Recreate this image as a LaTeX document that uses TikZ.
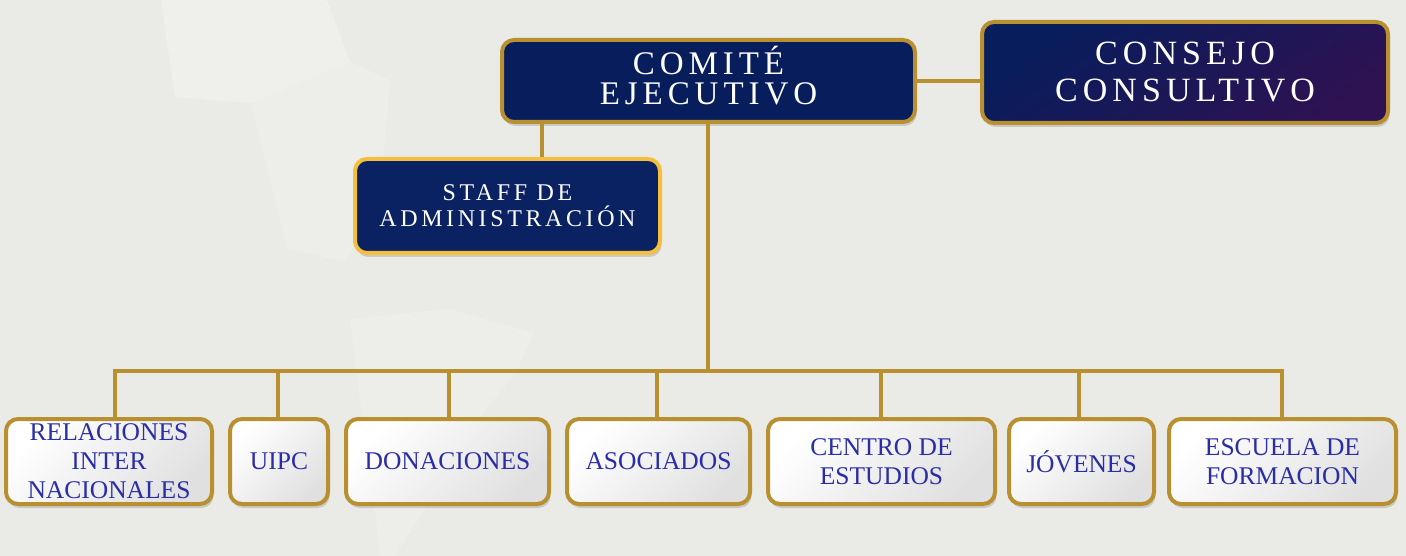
\documentclass[tikz,border=0pt]{standalone}
\usepackage{fontspec}
\setmainfont{Liberation Serif}
\newfontfamily\hdrfont[LetterSpace=15]{Liberation Serif}
\usetikzlibrary{shadows}
\definecolor{bg}{HTML}{EAEAE6}
\definecolor{gold}{HTML}{B8902F}
\definecolor{goldlight}{HTML}{F4BE3E}
\definecolor{navy}{HTML}{071D5C}
\definecolor{navyb}{HTML}{0A2262}
\definecolor{purp}{HTML}{2E1252}
\definecolor{boxgray}{HTML}{E0E0E0}
\definecolor{unittext}{HTML}{2A2DA6}
\begin{document}
\begin{tikzpicture}[x=1pt,y=-1pt,
  shadowed/.style={drop shadow={shadow xshift=1.5pt,shadow yshift=-4pt,opacity=0.3}},
  hdrbox/.style={shadowed,rounded corners=12pt,draw=gold,line width=4pt,fill=navy,
    text=white,inner sep=0pt,align=center},
  unitbox/.style={shadowed,rounded corners=12pt,draw=gold,line width=4pt,
    top color=white,bottom color=boxgray,shading angle=45,
    text=unittext,font=\fontsize{25.5}{29}\selectfont,align=center,inner sep=0pt,
    minimum height=85pt},
  link/.style={draw=gold,line width=4pt}]
\useasboundingbox (0,0) rectangle (1406,556);
\fill[bg] (0,0) rectangle (1406,556);
% faint map background
\fill[white,opacity=0.28] (161,0) -- (327,0) -- (350,62) -- (251,103) -- (175,97) -- cycle;
\fill[white,opacity=0.18] (251,103) -- (350,62) -- (390,80) -- (380,200) -- (345,262) -- (287,248) -- cycle;
\fill[white,opacity=0.18] (350,319) -- (448,309) -- (534,333) -- (516,372) -- (470,430) -- (430,500) -- (395,556) -- (380,556) -- (372,480) -- (360,400) -- cycle;

% top level
\node[hdrbox,minimum width=413pt,minimum height=82pt,text depth=11pt,
  font=\hdrfont\fontsize{33}{30.5}\selectfont] (comite) at (708.5,81) {COMITÉ\\EJECUTIVO};
\node[hdrbox,top color=navy,bottom color=purp,shading angle=35,
  minimum width=406pt,minimum height=101pt,
  font=\hdrfont\fontsize{34}{37}\selectfont] (consejo) at (1185,72.5) {CONSEJO\\CONSULTIVO};
\node[hdrbox,draw=goldlight,fill=navyb,minimum width=305pt,minimum height=94pt,
  font=\hdrfont\fontsize{24}{26}\selectfont] (staff) at (507.5,206) {STAFF DE\\ADMINISTRACIÓN};

% units
\node[unitbox,minimum width=206pt] (rel) at (109,461.5) {RELACIONES\\INTER\\NACIONALES};
\node[unitbox,minimum width=98pt] (uipc) at (279,461.5) {UIPC};
\node[unitbox,minimum width=203pt] (don) at (447.5,461.5) {DONACIONES};
\node[unitbox,minimum width=183pt] (aso) at (658.5,461.5) {ASOCIADOS};
\node[unitbox,minimum width=227pt] (cen) at (881.5,461.5) {CENTRO DE\\ESTUDIOS};
\node[unitbox,minimum width=145pt] (jov) at (1081.5,461.5) {JÓVENES};
\node[unitbox,minimum width=227pt] (esc) at (1282.5,461.5) {ESCUELA DE\\FORMACION};

% bus coordinates
\coordinate (hub) at (708,371);
\coordinate (b1) at (115,371);
\coordinate (b2) at (278,371);
\coordinate (b3) at (449,371);
\coordinate (b4) at (657,371);
\coordinate (b5) at (881,371);
\coordinate (b6) at (1079,371);
\coordinate (b7) at (1282,371);
\coordinate (sc) at (542,140);

% connectors
\draw[link] (comite.east) -- (comite.east -| consejo.west);
\draw[link] (sc |- comite.south) -- (sc |- staff.north);
\draw[link] (hub |- comite.south) -- (hub);
\draw[link] (b1 |- rel.north) -- (b1) -- (b7) -- (b7 |- esc.north);
\draw[link] (b2) -- (b2 |- uipc.north);
\draw[link] (b3) -- (b3 |- don.north);
\draw[link] (b4) -- (b4 |- aso.north);
\draw[link] (b5) -- (b5 |- cen.north);
\draw[link] (b6) -- (b6 |- jov.north);
\end{tikzpicture}
\end{document}
